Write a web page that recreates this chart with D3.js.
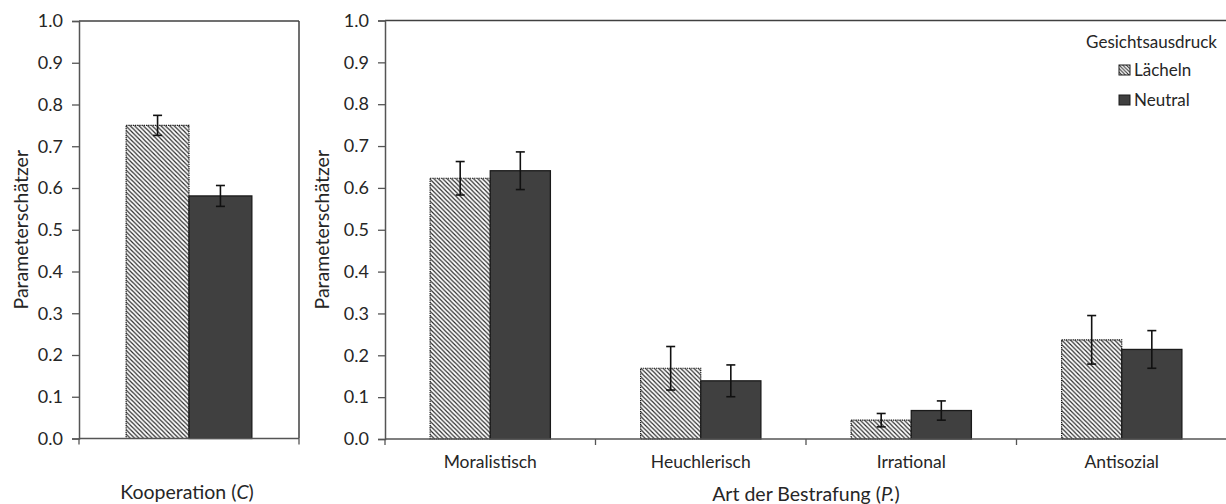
<!DOCTYPE html>
<html>
<head>
<meta charset="utf-8">
<script src="https://cdn.jsdelivr.net/npm/d3@7"></script>
<style>
  html, body { margin: 0; padding: 0; background: #fff; }
  svg { display: block; font-family: Lato, "Open Sans", sans-serif; }
</style>
</head>
<body>
<svg id="chart" width="1226" height="504"></svg>
<script>
// Parameter estimates by facial expression
const seriesNames = ["Lächeln", "Neutral"];

// Cooperation parameter (C)
const coopCategory = ["Kooperation"];
const coopValues = [0.750, 0.581];
const coopErrors = [0.024, 0.025];

// Punishment parameters (P.)
const categories = ["Moralistisch", "Heuchlerisch", "Irrational", "Antisozial"];
const smileValues = [0.623, 0.169, 0.045, 0.237];
const smileErrors = [0.040, 0.052, 0.016, 0.058];
const neutralValues = [0.641, 0.139, 0.068, 0.214];
const neutralErrors = [0.045, 0.038, 0.023, 0.045];

const yTicks = [0, 0.1, 0.2, 0.3, 0.4, 0.5, 0.6, 0.7, 0.8, 0.9, 1.0];

const svg = d3.select("#chart");
const textColor = "#262626";
const axisColor = "#555";

// Diagonal hatch used for the "Lächeln" bars
const defs = svg.append("defs");
const hatch = defs.append("pattern")
  .attr("id", "hatch")
  .attr("patternUnits", "userSpaceOnUse")
  .attr("width", 4.4).attr("height", 4.4);
hatch.append("rect").attr("width", 4.4).attr("height", 4.4).attr("fill", "#fff");
hatch.append("path")
  .attr("d", "M-1,-1 L5.4,5.4 M-1,3.4 L1,5.4 M3.4,-1 L5.4,1")
  .attr("stroke", "#2a2a2a").attr("stroke-width", 1.2);

const hatchSmall = defs.append("pattern")
  .attr("id", "hatchLegend")
  .attr("patternUnits", "userSpaceOnUse")
  .attr("width", 3.6).attr("height", 3.6);
hatchSmall.append("rect").attr("width", 3.6).attr("height", 3.6).attr("fill", "#fff");
hatchSmall.append("path")
  .attr("d", "M-1,-1 L4.6,4.6 M-1,2.6 L1,4.6 M2.6,-1 L4.6,1")
  .attr("stroke", "#2a2a2a").attr("stroke-width", 1.1);

const fills = ["url(#hatch)", "#404040"];

function drawPanel(opts) {
  const { left, right, top, bottom, cats, values, errors, titleX, boxed } = opts;

  const y = d3.scaleLinear().domain([0, 1]).range([bottom, top]);
  const x = d3.scaleBand().domain(cats).range([left, right]).padding(0);
  const xInner = d3.scaleBand().domain(seriesNames)
    .range([0, x.bandwidth()]).paddingInner(0).paddingOuter(0.75);

  const g = svg.append("g");

  // frame
  g.append("line")
    .attr("x1", left).attr("x2", Math.min(right, 1226))
    .attr("y1", top).attr("y2", top)
    .attr("stroke", "#404040").attr("stroke-width", 1.5);
  if (boxed) {
    g.append("line")
      .attr("x1", right).attr("x2", right)
      .attr("y1", top).attr("y2", bottom)
      .attr("stroke", "#404040").attr("stroke-width", 1.5);
  }

  // bars
  const rows = [];
  cats.forEach((c, i) => {
    seriesNames.forEach((s, j) => {
      rows.push({ cat: c, series: s, j, value: values[j][i], err: errors[j][i] });
    });
  });

  g.selectAll("rect.bar").data(rows).join("rect")
    .attr("class", "bar")
    .attr("x", d => x(d.cat) + xInner(d.series))
    .attr("width", xInner.bandwidth())
    .attr("y", d => y(d.value))
    .attr("height", d => y(0) - y(d.value))
    .attr("fill", d => fills[d.j])
    .attr("stroke", "#1a1a1a")
    .attr("stroke-width", d => d.j === 0 ? 1.2 : 1.3)
    .attr("stroke-dasharray", d => d.j === 0 ? "1.3 0.9" : null);

  // error bars
  const eb = g.selectAll("g.err").data(rows).join("g")
    .attr("class", "err")
    .attr("transform", d => `translate(${x(d.cat) + xInner(d.series) + xInner.bandwidth() / 2},0)`)
    .attr("stroke", "#111").attr("stroke-width", 1.6);
  eb.append("line")
    .attr("y1", d => y(d.value + d.err)).attr("y2", d => y(d.value - d.err));
  eb.append("line").attr("x1", -4.5).attr("x2", 4.5)
    .attr("y1", d => y(d.value + d.err)).attr("y2", d => y(d.value + d.err));
  eb.append("line").attr("x1", -4.5).attr("x2", 4.5)
    .attr("y1", d => y(d.value - d.err)).attr("y2", d => y(d.value - d.err));

  // y axis
  const yAxis = g.append("g")
    .attr("transform", `translate(${left},0)`)
    .call(d3.axisLeft(y).tickValues(yTicks).tickFormat(d3.format(".1f"))
      .tickSize(7).tickPadding(9));
  yAxis.select(".domain").attr("stroke", axisColor).attr("stroke-width", 1.5);
  yAxis.selectAll(".tick line").attr("stroke", axisColor).attr("stroke-width", 1.3);
  yAxis.selectAll(".tick text").attr("font-size", 18)
    .attr("font-family", "Lato, sans-serif").attr("fill", textColor);

  // x axis: baseline with category labels, ticks at band edges
  const xAxis = g.append("g")
    .attr("transform", `translate(0,${bottom})`)
    .call(d3.axisBottom(x).tickSize(0).tickPadding(17).tickSizeOuter(0));
  xAxis.select(".domain").attr("stroke", axisColor).attr("stroke-width", 1.5)
    .attr("d", `M${left},0H${Math.min(right, 1226)}`);
  xAxis.selectAll(".tick text").attr("font-size", 17.5)
    .attr("font-family", "Lato, sans-serif").attr("fill", textColor);
  if (cats.length === 1) xAxis.selectAll(".tick text").remove();

  const edges = cats.map(c => x(c)).concat([right]);
  g.selectAll("line.edge").data(edges).join("line")
    .attr("class", "edge")
    .attr("x1", d => d).attr("x2", d => d)
    .attr("y1", bottom).attr("y2", bottom + 6)
    .attr("stroke", axisColor).attr("stroke-width", 1.3);

  // y title
  g.append("text")
    .attr("transform", `translate(${titleX},${(top + bottom) / 2}) rotate(-90)`)
    .attr("text-anchor", "middle").attr("dominant-baseline", "central")
    .attr("font-size", 19.5).attr("fill", textColor)
    .text("Parameterschätzer");

  return { x, y };
}

// Left panel: cooperation
drawPanel({
  left: 79, right: 299, top: 21, bottom: 438.5,
  cats: coopCategory,
  values: [[coopValues[0]], [coopValues[1]]],
  errors: [[coopErrors[0]], [coopErrors[1]]],
  titleX: 20, boxed: true
});

// Right panel: punishment types (extends past the right edge)
drawPanel({
  left: 385, right: 1227, top: 20.5, bottom: 439,
  cats: categories,
  values: [smileValues, neutralValues],
  errors: [smileErrors, neutralErrors],
  titleX: 321, boxed: false
});

// x titles
const t1 = svg.append("text")
  .attr("x", 187).attr("y", 499)
  .attr("text-anchor", "middle").attr("font-size", 19.5).attr("fill", textColor);
t1.append("tspan").text("Kooperation (");
t1.append("tspan").attr("font-style", "italic").text("C");
t1.append("tspan").text(")");

const t2 = svg.append("text")
  .attr("x", 806).attr("y", 501)
  .attr("text-anchor", "middle").attr("font-size", 19.5).attr("fill", textColor);
t2.append("tspan").text("Art der Bestrafung (");
t2.append("tspan").attr("font-style", "italic").text("P.");
t2.append("tspan").text(")");

// legend
const legend = svg.append("g");
legend.append("text")
  .attr("x", 1217).attr("y", 48)
  .attr("text-anchor", "end").attr("font-size", 17).attr("fill", textColor)
  .text("Gesichtsausdruck");
const items = legend.selectAll("g.item").data(seriesNames).join("g")
  .attr("class", "item")
  .attr("transform", (d, i) => `translate(1119,${65 + i * 30})`);
items.append("rect")
  .attr("width", 11).attr("height", 10)
  .attr("fill", (d, i) => i === 0 ? "url(#hatchLegend)" : "#404040")
  .attr("stroke", "#1a1a1a").attr("stroke-width", 1);
items.append("text")
  .attr("x", 15).attr("y", 11)
  .attr("font-size", 17).attr("fill", textColor)
  .text(d => d);
</script>
</body>
</html>
